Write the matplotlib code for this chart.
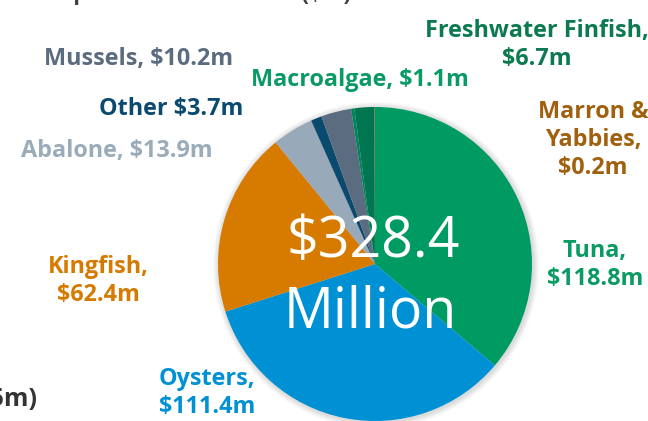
import matplotlib
matplotlib.use("Agg")
import matplotlib.pyplot as plt
from matplotlib.patches import Circle

# Valor da produção por espécie ($m), na ordem do gráfico (horário a partir das 12h)
especies = ["Tuna", "Oysters", "Kingfish", "Abalone", "Other", "Mussels",
            "Macroalgae", "Freshwater Finfish", "Marron &\nYabbies"]
valores = [118.8, 111.4, 62.4, 13.9, 3.7, 10.2, 1.1, 6.7, 0.2]
separadores = [",\n", ",\n", ",\n", ", ", " ", ", ", ", ", ",\n", ",\n"]

cores_fatia = ["#009a63", "#0091d5", "#d67b00", "#98a9b9", "#0b4a6f",
               "#5b6c80", "#00845a", "#007650", "#a0560e"]
cores_rotulo = ["#0a9a63", "#0091d5", "#d67b00", "#9aabba", "#0b4a6f",
                "#5b6c80", "#0a9a63", "#0b7a50", "#a0600e"]

# posição dos rótulos em pixels da imagem: (x central, baseline da 1a linha)
pos_rotulo = [(595, 257), (207, 385), (98, 273), (117, 157), (171, 115),
              (139, 65), (360, 86), (537, 37), (593, 118)]
PASSO_LINHA = 28

W, H = 648, 421
CX, CY, R = 375, 264, 157

fig = plt.figure(figsize=(W / 100, H / 100), dpi=100)
ax = fig.add_axes([0, 0, 1, 1])
ax.set_xlim(0, W)
ax.set_ylim(0, H)
ax.set_aspect("equal")
ax.axis("off")

def fy(y):
    # converte y da imagem (de cima) para y dos dados
    return H - y

# sombra suave em volta da pizza
for k in range(6, 0, -1):
    ax.add_patch(Circle((CX + 1, fy(CY) - 1), R + k, facecolor="#000000",
                        edgecolor="none", alpha=0.025, zorder=1))

ax.pie(valores, colors=cores_fatia, startangle=90, counterclock=False,
       center=(CX, fy(CY)), radius=R, frame=True,
       wedgeprops=dict(linewidth=0, zorder=2))
ax.set_xlim(0, W)
ax.set_ylim(0, H)
ax.axis("off")

fonte = "Open Sans"
for nome, v, sep, cor, (x, y) in zip(especies, valores, separadores, cores_rotulo, pos_rotulo):
    texto = f"{nome}{sep}${v:.1f}m"
    for i, linha in enumerate(texto.split("\n")):
        ax.text(x, fy(y + i * PASSO_LINHA), linha, color=cor, fontsize=16.8,
                fontweight="bold", family=fonte, ha="center", va="baseline",
                parse_math=False, zorder=5)

total = sum(valores)
ax.text(373, fy(257), f"${total:.1f}", color="white", fontsize=40,
        family=fonte, ha="center", va="baseline", parse_math=False, zorder=6)
ax.text(370, fy(328), "Million", color="white", fontsize=40,
        family=fonte, ha="center", va="baseline", parse_math=False, zorder=6)

# restos de texto do slide cortados nas bordas
ax.text(-70, fy(0), "Aquaculture production value SA ($m)", color="#404040",
        fontsize=16, fontweight="bold", family=fonte, ha="left", va="baseline",
        parse_math=False, zorder=5)
ax.text(38, fy(406), "$6.5m)", color="#333333", fontsize=18, fontweight="bold",
        family=fonte, ha="right", va="baseline", parse_math=False, zorder=5)

fig.savefig("out.png", dpi=100)
